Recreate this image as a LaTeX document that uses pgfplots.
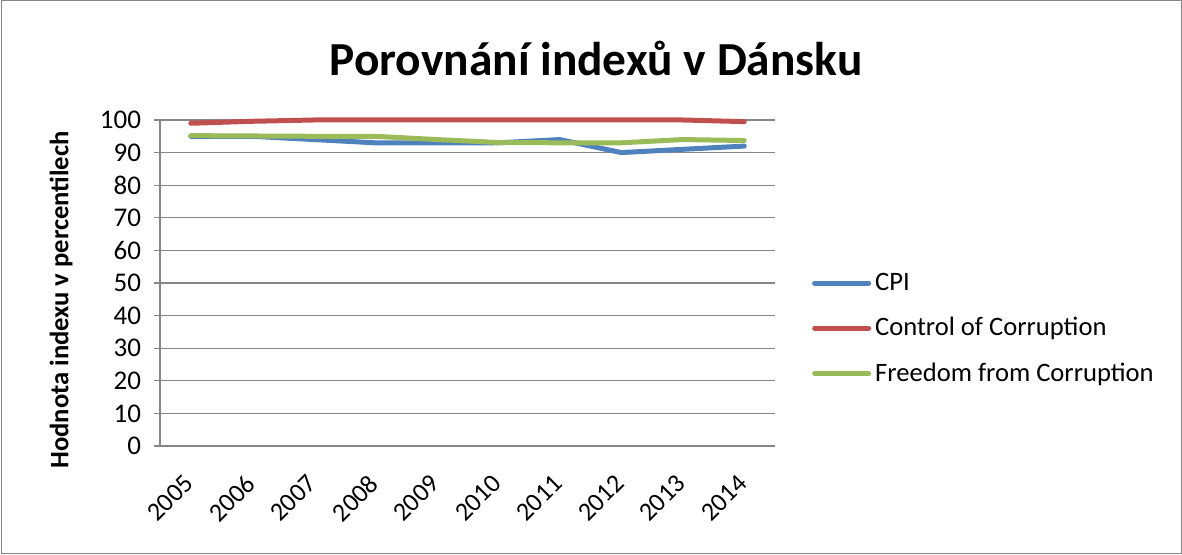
\documentclass[border=0pt]{standalone}
\usepackage{pgfplots}
\pgfplotsset{compat=1.18}
\usepackage{fontspec}
\setmainfont{Carlito}

\definecolor{cpiblue}{HTML}{4F81BD}
\definecolor{ccred}{HTML}{C0504D}
\definecolor{fcgreen}{HTML}{9BBB59}
\definecolor{gridgray}{HTML}{868686}

\begin{document}
\begin{tikzpicture}
\path[use as bounding box] (0,0) rectangle (591pt,277.5pt);
\draw[gridgray, line width=0.5pt] (0.5pt,0.5pt) rectangle (590.5pt,277pt);

\begin{axis}[
    at={(80pt,54.5pt)}, anchor=south west,
    scale only axis,
    width=307.5pt, height=163pt,
    xmin=-0.5, xmax=9.5,
    ymin=0, ymax=100,
    xtick={0,...,9},
    xticklabels={2005,2006,2007,2008,2009,2010,2011,2012,2013,2014},
    ytick={0,10,...,100},
    axis x line=bottom, axis y line=left,
    axis line style={gridgray, line width=0.6pt, -},
    ymajorgrids=true,
    grid style={gridgray, line width=0.6pt},
    major tick length=3pt,
    xtick style={draw=none},
    ytick style={gridgray, line width=0.6pt},
    tick align=outside,
    x tick label style={rotate=45, anchor=north east, font=\fontsize{13}{15}\selectfont,
        inner sep=1pt, xshift=-9.1pt, yshift=-3.6pt},
    y tick label style={font=\fontsize{13.5}{15}\selectfont, xshift=-3pt},
    /pgf/number format/assume math mode=true,
    clip=false,
    legend style={draw=none, at={(1.05,0.36)}, anchor=west,
        font=\fontsize{13.3}{15}\selectfont, row sep=8pt},
    legend cell align=left,
    legend image code/.code={\draw[#1, line cap=round] (0pt,0pt) -- (27pt,0pt);},
]

\addplot[color=cpiblue, line width=2.5pt, line cap=round, line join=round]
    coordinates {(0,95)(1,95)(2,94)(3,93)(4,93)(5,93)(6,94)(7,90)(8,91)(9,92)};
\addlegendentry{CPI}

\addplot[color=ccred, line width=2.5pt, line cap=round, line join=round]
    coordinates {(0,99)(1,99.6)(2,100)(3,100)(4,100)(5,100)(6,100)(7,100)(8,100)(9,99.5)};
\addlegendentry{Control of Corruption}

\addplot[color=fcgreen, line width=2.5pt, line cap=round, line join=round]
    coordinates {(0,95.2)(1,95.1)(2,95)(3,95)(4,94)(5,93.1)(6,93)(7,93)(8,94)(9,93.7)};
\addlegendentry{Freedom from Corruption}

\end{axis}

\node[font=\bfseries\fontsize{23.7}{27}\selectfont] at (298pt,248pt) {Porovnání indexů v Dánsku};
\node[font=\bfseries\fontsize{13.3}{15}\selectfont, rotate=90] at (30.5pt,127.5pt) {Hodnota indexu v percentilech};
\end{tikzpicture}
\end{document}
